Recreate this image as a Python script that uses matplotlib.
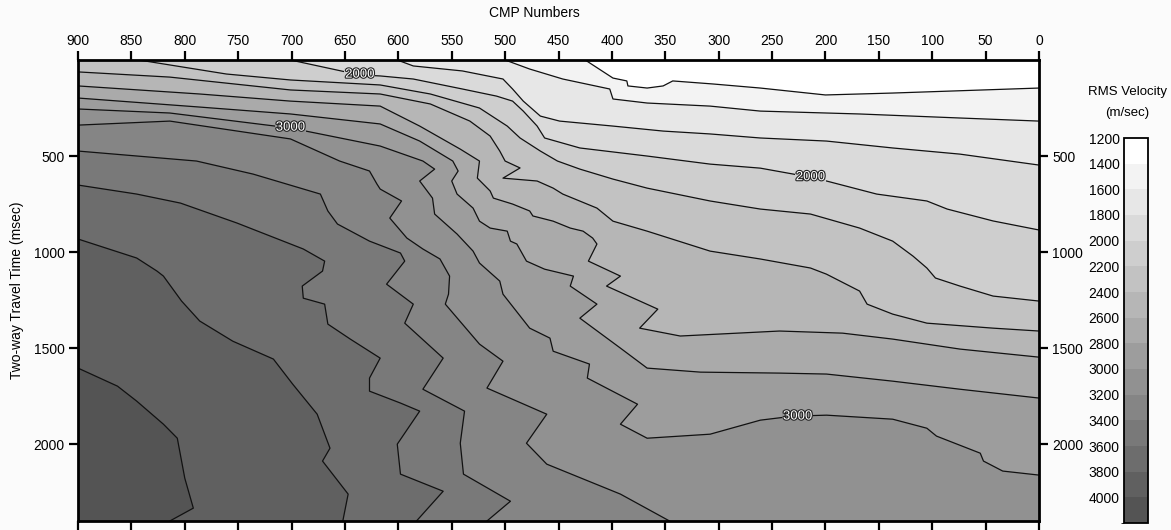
import matplotlib
matplotlib.use('Agg')
import matplotlib.pyplot as plt
import numpy as np
import matplotlib.patheffects as pe
from matplotlib.colors import ListedColormap, BoundaryNorm
from matplotlib.cm import ScalarMappable

plt.rcParams['font.family'] = ['Liberation Sans', 'DejaVu Sans']

# colour scale boundaries (m/sec)
levels = [1200, 1400, 1600, 1800, 2000, 2200, 2400, 2600, 2800, 3000,
          3200, 3400, 3600, 3800, 4000, 4200]

# axis ticks
cmp_ticks = [900, 850, 800, 750, 700, 650, 600, 550, 500, 450, 400,
             350, 300, 250, 200, 150, 100, 50, 0]
time_ticks = [500, 1000, 1500, 2000]

# isovelocity lines: CMP number / two-way time (msec)
cmp_1400 = [425, 399, 386, 385, 367, 352, 343, 305, 261, 200, 137, 0]
t_1400 = [0, 94, 109, 135, 146, 135, 109, 125, 146, 182, 172, 146]

cmp_1600 = [500, 477, 446, 402, 399, 367, 308, 261, 168, 74, 0]
t_1600 = [0, 47, 99, 151, 203, 224, 240, 266, 281, 302, 318]

cmp_1800 = [601, 586, 540, 502, 493, 483, 467, 449, 399, 352, 308, 261, 199, 137, 74, 0]
t_1800 = [0, 31, 57, 99, 151, 214, 292, 318, 344, 370, 385, 406, 422, 458, 490, 547]

cmp_2000 = [701, 636, 617, 586, 540, 508, 493, 483, 470, 463, 430, 367, 308, 261,
            230, 199, 152, 105, 86, 43, 0]
t_2000 = [0, 78, 83, 99, 151, 188, 214, 266, 344, 406, 458, 500, 542, 563,
          594, 630, 698, 734, 776, 838, 885]

cmp_2200 = [843, 761, 701, 617, 570, 524, 498, 486, 467, 451, 430, 399, 367, 308,
            261, 214, 168, 137, 118, 105, 97, 74, 43, 0]
t_2200 = [0, 73, 104, 130, 177, 250, 344, 406, 474, 526, 568, 620, 667, 734,
          776, 802, 875, 943, 1021, 1083, 1135, 1177, 1229, 1255]

cmp_2400 = [900, 814, 701, 617, 570, 533, 514, 505, 500, 486, 502, 470, 455, 446,
            414, 399, 367, 308, 261, 214, 199, 168, 161, 137, 105, 43, 0]
t_2400 = [62, 89, 156, 177, 229, 318, 396, 474, 526, 562, 615, 630, 667, 698,
          771, 839, 891, 995, 1036, 1083, 1115, 1203, 1271, 1323, 1370, 1396, 1411]

cmp_2600 = [900, 786, 701, 617, 580, 542, 524, 526, 514, 511, 493, 477, 474, 455,
            439, 427, 418, 414, 422, 392, 405, 357, 374, 336, 243, 184, 137, 74, 0]
t_2600 = [135, 177, 214, 240, 344, 464, 526, 615, 682, 719, 750, 786, 812, 839,
          875, 891, 927, 958, 1047, 1125, 1177, 1297, 1396, 1437, 1411, 1422, 1453, 1505, 1547]

cmp_2800 = [900, 786, 701, 617, 580, 549, 544, 550, 545, 530, 524, 514, 498, 495,
            489, 480, 463, 436, 439, 414, 430, 392, 367, 317, 243, 199, 137, 74, 0]
t_2800 = [198, 245, 281, 333, 422, 526, 578, 630, 698, 771, 839, 875, 891, 943,
          958, 1047, 1089, 1125, 1177, 1271, 1344, 1500, 1604, 1625, 1630, 1635, 1672, 1714, 1760]

cmp_3000 = [900, 814, 701, 617, 577, 566, 580, 568, 566, 545, 530, 524, 505, 502,
            477, 458, 455, 421, 423, 376, 392, 367, 308, 261, 230, 199, 137, 105,
            96, 55, 52, 34, 0]
t_3000 = [255, 276, 354, 448, 526, 568, 630, 719, 802, 906, 995, 1057, 1151, 1219,
          1396, 1448, 1516, 1583, 1656, 1792, 1896, 1969, 1948, 1875, 1854, 1849, 1870, 1917,
          1958, 2047, 2088, 2140, 2161]

cmp_3200 = [900, 814, 701, 655, 627, 620, 617, 597, 608, 592, 577, 561, 552, 553,
            556, 524, 502, 517, 461, 480, 461, 392, 346]
t_3200 = [339, 318, 411, 526, 578, 646, 672, 734, 823, 927, 984, 1036, 1125, 1219,
          1271, 1479, 1568, 1708, 1844, 1995, 2104, 2260, 2400]

cmp_3400 = [900, 789, 736, 673, 666, 657, 627, 598, 594, 611, 586, 594, 558, 577,
            538, 542, 539, 495, 517]
t_3400 = [474, 526, 594, 698, 786, 854, 943, 1005, 1047, 1167, 1271, 1370, 1552, 1714,
          1828, 1995, 2156, 2297, 2400]

cmp_3600 = [900, 845, 804, 751, 689, 669, 671, 690, 689, 669, 666, 645, 617, 627,
            627, 598, 580, 601, 598, 558, 583]
t_3600 = [651, 698, 745, 849, 984, 1047, 1099, 1177, 1240, 1271, 1375, 1453, 1552, 1656,
          1724, 1786, 1828, 2000, 2156, 2245, 2400]

cmp_3800 = [900, 845, 826, 820, 803, 786, 755, 717, 699, 676, 664, 671, 647, 652]
t_3800 = [932, 1031, 1099, 1125, 1255, 1359, 1464, 1557, 1687, 1844, 2021, 2088, 2260, 2400]

cmp_4000 = [900, 863, 845, 820, 807, 800, 792, 814]
t_4000 = [1604, 1698, 1776, 1896, 1969, 2177, 2333, 2400]

contours = [
    (1400, cmp_1400, t_1400), (1600, cmp_1600, t_1600), (1800, cmp_1800, t_1800),
    (2000, cmp_2000, t_2000), (2200, cmp_2200, t_2200), (2400, cmp_2400, t_2400),
    (2600, cmp_2600, t_2600), (2800, cmp_2800, t_2800), (3000, cmp_3000, t_3000),
    (3200, cmp_3200, t_3200), (3400, cmp_3400, t_3400), (3600, cmp_3600, t_3600),
    (3800, cmp_3800, t_3800), (4000, cmp_4000, t_4000),
]

# contour labels (CMP, time, text)
label_cmp = [636, 701, 214, 226]
label_t = [76, 352, 610, 1856]
label_txt = ['2000', '3000', '2000', '3000']

cmp_max, cmp_min = 900, 0
t_min, t_max = 0, 2400

# gray shades, white for the slowest band
grays = np.linspace(1.0, 0.33, len(levels) - 1)
band_colors = [(g, g, g) for g in grays]

fig = plt.figure(figsize=(11.71, 5.30), dpi=100)
fig.patch.set_facecolor('#fbfbfb')
ax = fig.add_axes([78 / 1171, 1 - 521 / 530, 961 / 1171, 461 / 530])
ax.set_facecolor(band_colors[0])

# fill region with velocity >= level (below/left of each line), slow to fast
for lev, cx, tx in contours:
    xs = list(cx)
    ys = list(tx)
    if xs[-1] == cmp_min:
        xs.append(cmp_min)
        ys.append(t_max)
    xs.append(cmp_max)
    ys.append(t_max)
    if ys[0] == t_min:
        xs.append(cmp_max)
        ys.append(t_min)
    idx = levels.index(lev)
    ax.fill(xs, ys, color=band_colors[idx], lw=0, zorder=1)

for lev, cx, tx in contours:
    ax.plot(cx, tx, color='#111111', lw=0.9, zorder=2, solid_joinstyle='round')

for cx, tx, s in zip(label_cmp, label_t, label_txt):
    idx = levels.index(int(s))
    ax.text(cx, tx, s, ha='center', va='center', fontsize=9.5, color='white',
            zorder=3,
            path_effects=[pe.withStroke(linewidth=1.6, foreground='#222222')],
            bbox=dict(boxstyle='square,pad=0.05', fc=band_colors[idx], ec='none'))

ax.set_xlim(cmp_max, cmp_min)
ax.set_ylim(t_max, t_min)
ax.set_xticks(cmp_ticks)
ax.set_yticks(time_ticks)
ax.tick_params(axis='x', top=True, bottom=True, labeltop=True, labelbottom=False,
               direction='out', length=6.5, width=1.6, pad=2, labelsize=10)
ax.tick_params(axis='y', left=True, right=True, labelleft=True, labelright=True,
               direction='out', length=6.5, width=1.6, pad=3, labelsize=10)
for sp in ax.spines.values():
    sp.set_linewidth(2)
    sp.set_zorder(5)

fig.text(534 / 1171, 1 - 13 / 530, 'CMP Numbers', ha='center', va='center', fontsize=10)
fig.text(17 / 1171, 1 - 290 / 530, 'Two-way Travel Time (msec)', ha='center', va='center',
         rotation=90, fontsize=10)

# colour bar
cax = fig.add_axes([1124 / 1171, 1 - 523 / 530, 24 / 1171, 385 / 530])
cmap = ListedColormap(band_colors)
norm = BoundaryNorm(levels, cmap.N)
sm = ScalarMappable(norm=norm, cmap=cmap)
cb = fig.colorbar(sm, cax=cax, ticks=levels[:-1], drawedges=True)
cax.invert_yaxis()
cax.yaxis.set_ticks_position('left')
cax.tick_params(length=0, pad=3, labelsize=10)
cb.outline.set_linewidth(1.3)
cb.dividers.set_color('#555555')
cb.dividers.set_linewidth(0.8)

fig.text(1127 / 1171, 1 - 92 / 530, 'RMS Velocity', ha='center', va='center', fontsize=9.5)
fig.text(1127 / 1171, 1 - 113 / 530, '(m/sec)', ha='center', va='center', fontsize=9.5)

fig.savefig('out.png', dpi=100, facecolor=fig.get_facecolor())
